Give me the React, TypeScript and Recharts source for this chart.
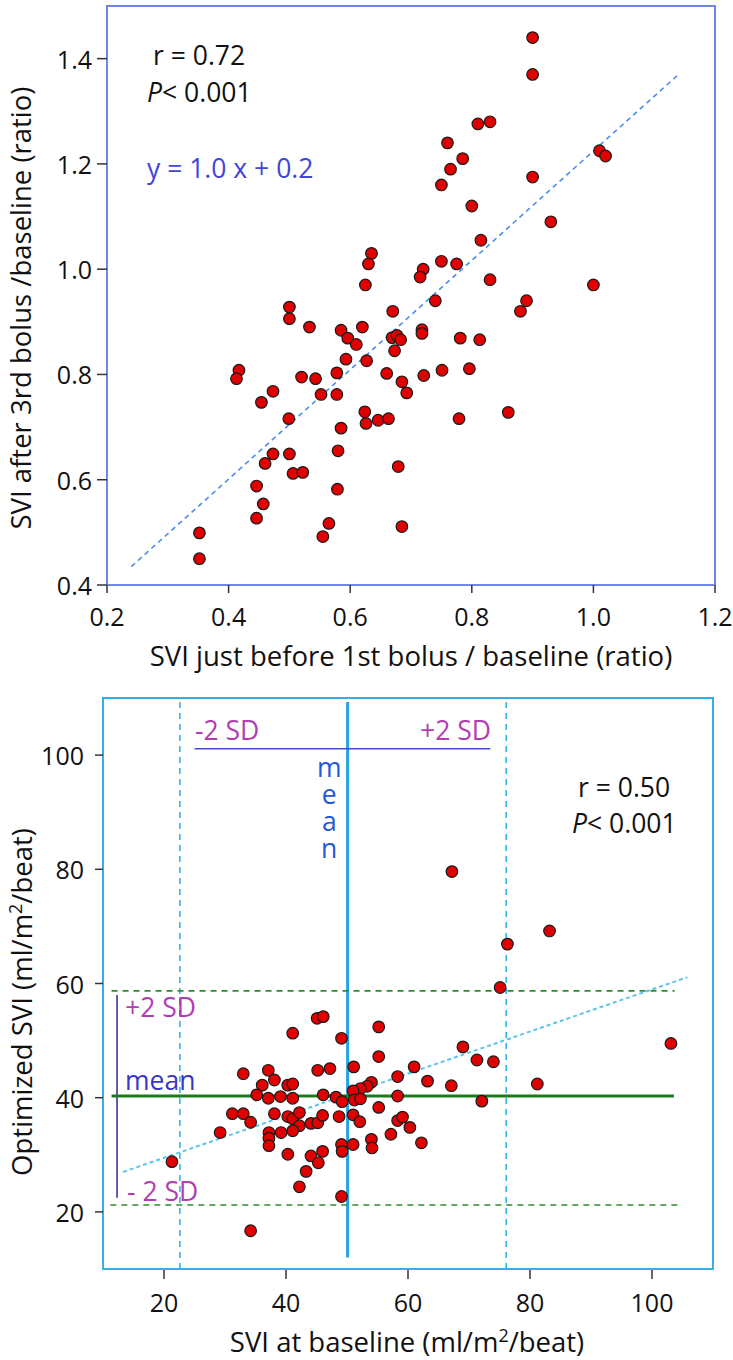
import React from "react";
import { ScatterChart, Scatter, XAxis, YAxis, ReferenceLine, ReferenceArea } from "recharts";

const FONT = "'Open Sans', sans-serif";
const FS = 25;
const FS_NOTE = 26.5;
const FS_TITLE = 27.5;

// ---- Top chart data ----
const topBeforeFirstBolus = [
  0.90, 0.90, 0.81, 0.83, 0.76, 0.785, 0.765, 0.75, 1.01, 1.02, 0.90, 0.80, 0.93, 0.815, 0.635, 0.63,
  0.75, 0.775, 0.72, 0.715, 0.83, 0.625, 1.0, 0.74, 0.89, 0.88, 0.67, 0.50, 0.50, 0.533, 0.62, 0.585,
  0.596, 0.61, 0.669, 0.677, 0.683, 0.673, 0.718, 0.718, 0.781, 0.813, 0.593, 0.627, 0.417, 0.413,
  0.52, 0.543, 0.578, 0.66, 0.721, 0.751, 0.796, 0.685, 0.693, 0.473, 0.454, 0.552, 0.578, 0.499,
  0.624, 0.626, 0.646, 0.663, 0.779, 0.86, 0.585, 0.58, 0.473, 0.50, 0.46, 0.506, 0.522, 0.679,
  0.446, 0.579, 0.457, 0.446, 0.565, 0.555, 0.685, 0.352, 0.352,
];
const topAfterThirdBolus = [
  1.44, 1.37, 1.276, 1.28, 1.24, 1.21, 1.19, 1.16, 1.225, 1.215, 1.175, 1.12, 1.09, 1.055, 1.03, 1.01,
  1.015, 1.01, 1.0, 0.985, 0.98, 0.97, 0.97, 0.94, 0.94, 0.92, 0.92, 0.928, 0.906, 0.89, 0.89, 0.884,
  0.869, 0.857, 0.87, 0.874, 0.866, 0.845, 0.885, 0.878, 0.869, 0.866, 0.829, 0.826, 0.808, 0.792,
  0.795, 0.792, 0.803, 0.802, 0.798, 0.808, 0.811, 0.786, 0.765, 0.768, 0.747, 0.762, 0.762, 0.716,
  0.729, 0.707, 0.713, 0.716, 0.716, 0.728, 0.698, 0.655, 0.649, 0.649, 0.631, 0.612, 0.614, 0.625,
  0.588, 0.582, 0.554, 0.527, 0.517, 0.492, 0.511, 0.499, 0.45,
];
const topXTicks = [0.2, 0.4, 0.6, 0.8, 1.0, 1.2];
const topYTicks = [0.4, 0.6, 0.8, 1.0, 1.2, 1.4];
const topTrendX = [0.24, 1.14];
const topTrendY = [0.435, 1.37];

// ---- Bottom chart data ----
const botBaseline = [
  67.2, 83.2, 76.3, 75.1, 45.1, 46.1, 55.2, 41.1, 49.1, 103.1, 69.0, 55.2, 71.3, 74.0, 61.0, 33.0,
  37.1, 45.2, 47.2, 51.1, 38.1, 36.1, 40.3, 41.1, 54.0, 53.3, 52.2, 51.0, 58.3, 63.2, 67.1, 81.2,
  35.2, 37.1, 39.1, 41.1, 46.1, 48.2, 49.2, 51.2, 52.2, 58.3, 72.1, 31.2, 33.0, 34.2, 29.2, 38.1,
  40.3, 41.1, 42.2, 42.2, 41.1, 39.2, 37.2, 37.2, 37.2, 44.1, 45.2, 46.0, 48.7, 51.0, 52.1, 55.2,
  58.3, 59.1, 60.3, 57.2, 62.2, 54.0, 54.1, 51.0, 49.1, 49.2, 46.0, 40.3, 44.1, 45.3, 43.3, 21.3,
  42.2, 49.1, 34.2,
];
const botOptimized = [
  79.6, 69.2, 66.9, 59.3, 53.9, 54.2, 52.4, 51.3, 50.4, 49.5, 48.9, 47.2, 46.6, 46.3, 45.4, 44.2,
  44.8, 44.8, 45.1, 45.4, 43.1, 42.2, 42.2, 42.4, 42.7, 42.0, 41.6, 41.2, 43.7, 42.9, 42.1, 42.4,
  40.5, 39.9, 40.2, 39.9, 40.5, 40.1, 39.3, 39.6, 39.8, 40.3, 39.4, 37.2, 37.2, 35.7, 33.9, 37.2,
  36.7, 36.3, 37.4, 35.1, 34.2, 33.9, 33.9, 32.9, 31.6, 35.5, 35.6, 36.9, 36.7, 37.0, 35.8, 38.3,
  36.0, 36.6, 34.8, 33.6, 32.1, 32.7, 31.2, 31.8, 31.8, 30.6, 30.6, 30.1, 29.8, 28.6, 27.1, 28.8,
  24.4, 22.7, 16.7,
];
const botXTicks = [20, 40, 60, 80, 100];
const botYTicks = [20, 40, 60, 80, 100];
const botMeanX = 50.1;
const botSdX = [22.6, 76.1];
const botMeanY = 40.3;
const botSdY = [58.7, 21.2];
const botTrendX = [13.3, 105.8];
const botTrendY = [27.0, 61.1];

const topData = topBeforeFirstBolus.map((x, i) => ({ x, y: topAfterThirdBolus[i] }));
const botData = botBaseline.map((x, i) => ({ x, y: botOptimized[i] }));

const Dot = (p: any) => (
  <circle cx={p.cx} cy={p.cy} r={5.8} fill="#e00000" stroke="#1a1a1a" strokeWidth={1.2} />
);

const txt = { fontFamily: FONT, fontSize: FS, fill: "#111" };

const TopXTick = ({ x, y, payload }: any) => (
  <g>
    <line x1={x} x2={x} y1={y} y2={y + 8} stroke="#333" strokeWidth={1.5} />
    <text x={x} y={y + 31} textAnchor="middle" dominantBaseline="central" {...txt}>
      {payload.value.toFixed(1)}
    </text>
  </g>
);
const TopYTick = ({ x, y, payload }: any) => (
  <g>
    <line x1={x - 10} x2={x} y1={y} y2={y} stroke="#333" strokeWidth={1.5} />
    <text x={x - 15} y={y} textAnchor="end" dominantBaseline="central" {...txt}>
      {payload.value.toFixed(1)}
    </text>
  </g>
);
const BotXTick = ({ x, y, payload }: any) => (
  <g>
    <line x1={x} x2={x} y1={y + 1} y2={y + 10} stroke="#333" strokeWidth={1.5} />
    <text x={x} y={y + 33} textAnchor="middle" dominantBaseline="central" {...txt}>
      {payload.value}
    </text>
  </g>
);
const BotYTick = ({ x, y, payload }: any) => (
  <g>
    <line x1={x - 8} x2={x} y1={y} y2={y} stroke="#333" strokeWidth={1.5} />
    <text x={x - 19} y={y} textAnchor="end" dominantBaseline="central" {...txt}>
      {payload.value}
    </text>
  </g>
);

const abs = (left: number, top: number, extra: any = {}): React.CSSProperties => ({
  position: "absolute",
  left,
  top,
  fontFamily: FONT,
  fontSize: FS_NOTE,
  lineHeight: "1",
  whiteSpace: "nowrap",
  color: "#111",
  transform: "translateY(-50%)",
  ...extra,
});

const Sup = () => (
  <sup style={{ fontSize: "0.65em", verticalAlign: "0.55em", lineHeight: 0 }}>2</sup>
);

export default function App() {
  return (
    <div style={{ position: "absolute", left: 0, top: 0, width: 733, height: 1360, background: "#fff" }}>
      {/* Top chart */}
      <div style={{ position: "absolute", left: 0, top: 0 }}>
        <ScatterChart width={733} height={680} margin={{ top: 6, right: 18, bottom: 65, left: 47 }}>
          <XAxis
            type="number"
            dataKey="x"
            domain={[0.2, 1.2]}
            ticks={topXTicks}
            height={30}
            tick={<TopXTick />}
            tickLine={false}
            tickSize={0}
            tickMargin={0}
            axisLine={false}
            allowDataOverflow
          />
          <YAxis
            type="number"
            dataKey="y"
            domain={[0.4, 1.5]}
            ticks={topYTicks}
            width={60}
            tick={<TopYTick />}
            tickLine={false}
            tickSize={0}
            tickMargin={0}
            axisLine={false}
            allowDataOverflow
          />
          <ReferenceArea x1={0.2} x2={1.2} y1={0.4} y2={1.5} fill="none" stroke="#6f86ea" strokeWidth={2} ifOverflow="visible" />
          <ReferenceLine
            segment={[{ x: topTrendX[0], y: topTrendY[0] }, { x: topTrendX[1], y: topTrendY[1] }]}
            stroke="#4a8ee8"
            strokeWidth={1.6}
            strokeDasharray="5 4"
          />
          <Scatter data={topData} shape={Dot} isAnimationActive={false} />
        </ScatterChart>
        <div style={abs(153, 55)}>r = 0.72</div>
        <div style={abs(147, 92)}>
          <i>P</i>&lt; 0.001
        </div>
        <div style={abs(147, 168, { color: "#3f46d8" })}>y = 1.0 x + 0.2</div>
        <div style={abs(411, 656, { fontSize: FS_TITLE, transform: "translate(-50%,-50%)" })}>
          SVI just before 1st bolus / baseline (ratio)
        </div>
        <div style={abs(21, 308, { fontSize: FS_TITLE, transform: "translate(-50%,-50%) rotate(-90deg)" })}>
          SVI after 3rd bolus /baseline (ratio)
        </div>
      </div>

      {/* Bottom chart */}
      <div style={{ position: "absolute", left: 0, top: 680 }}>
        <ScatterChart width={733} height={680} margin={{ top: 18, right: 20, bottom: 61, left: 43 }}>
          <XAxis
            type="number"
            dataKey="x"
            domain={[10, 110]}
            ticks={botXTicks}
            height={30}
            tick={<BotXTick />}
            tickLine={false}
            tickSize={0}
            tickMargin={0}
            axisLine={false}
            allowDataOverflow
          />
          <YAxis
            type="number"
            dataKey="y"
            domain={[10, 110]}
            ticks={botYTicks}
            width={60}
            tick={<BotYTick />}
            tickLine={false}
            tickSize={0}
            tickMargin={0}
            axisLine={false}
            allowDataOverflow
          />
          <ReferenceArea x1={10} x2={110} y1={10} y2={110} fill="none" stroke="#35b0e4" strokeWidth={2} ifOverflow="visible" />
          {botSdX.map((v, i) => (
            <ReferenceLine key={"sdx" + i} x={v} stroke="#35b4e6" strokeWidth={1.6} strokeDasharray="6 5" />
          ))}
          <ReferenceLine
            segment={[{ x: botMeanX, y: 12 }, { x: botMeanX, y: 109.3 }]}
            stroke="#21a6e2"
            strokeWidth={3}
          />
          <ReferenceLine
            segment={[{ x: 11.4, y: botSdY[0] }, { x: 103.7, y: botSdY[0] }]}
            stroke="#2f8a2f"
            strokeWidth={1.6}
            strokeDasharray="6 5"
          />
          <ReferenceLine
            segment={[{ x: 11.2, y: botSdY[1] }, { x: 105, y: botSdY[1] }]}
            stroke="#2f8a2f"
            strokeWidth={1.6}
            strokeDasharray="6 5"
          />
          <ReferenceLine
            segment={[{ x: botTrendX[0], y: botTrendY[0] }, { x: botTrendX[1], y: botTrendY[1] }]}
            stroke="#5cc3ea"
            strokeWidth={2}
            strokeDasharray="4 3"
          />
          <ReferenceLine
            segment={[{ x: 12.3, y: 58.0 }, { x: 12.3, y: 22.5 }]}
            stroke="#2a2a9a"
            strokeWidth={1.5}
          />
          <ReferenceLine
            segment={[{ x: 25.0, y: 101.1 }, { x: 73.5, y: 101.1 }]}
            stroke="#4a4ad0"
            strokeWidth={1.5}
          />
          <Scatter data={botData} shape={Dot} isAnimationActive={false} />
          <ReferenceLine
            segment={[{ x: 11.4, y: botMeanY }, { x: 103.6, y: botMeanY }]}
            stroke="#1d7a1d"
            strokeWidth={3.2}
          />
        </ScatterChart>
        <div style={abs(195, 50, { color: "#b23cb4" })}>-2 SD</div>
        <div style={abs(491, 50, { color: "#b23cb4", transform: "translate(-100%,-50%)" })}>+2 SD</div>
        <div
          style={{
            position: "absolute",
            left: 329,
            top: 69,
            transform: "translateX(-50%)",
            fontFamily: FONT,
            fontSize: FS_NOTE,
            lineHeight: "1",
            letterSpacing: "-9px",
            writingMode: "vertical-rl",
            textOrientation: "upright",
            whiteSpace: "nowrap",
            color: "#2458d8",
          }}
        >
          mean
        </div>
        <div style={abs(578, 107)}>r = 0.50</div>
        <div style={abs(572, 143)}>
          <i>P</i>&lt; 0.001
        </div>
        <div style={abs(125, 327, { color: "#b23cb4" })}>+2 SD</div>
        <div style={abs(125, 400, { color: "#3838c4" })}>mean</div>
        <div style={abs(127, 511, { color: "#b23cb4" })}>- 2 SD</div>
        <div style={abs(407, 662, { fontSize: FS_TITLE, transform: "translate(-50%,-50%)" })}>
          SVI at baseline (ml/m<Sup />/beat)
        </div>
        <div style={abs(22, 322, { fontSize: FS_TITLE, transform: "translate(-50%,-50%) rotate(-90deg)" })}>
          Optimized SVI (ml/m<Sup />/beat)
        </div>
      </div>
    </div>
  );
}
